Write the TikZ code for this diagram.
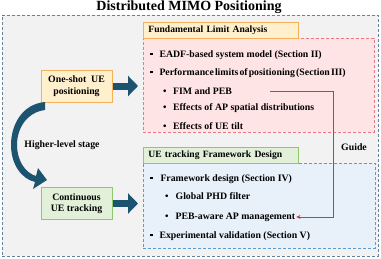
\documentclass[tikz,border=0pt]{standalone}
\usepackage{fontspec}
\setmainfont{Liberation Serif}
\usepackage{xcolor}
\usetikzlibrary{calc,positioning,arrows.meta}

\definecolor{framegray}{RGB}{242,242,242}
\definecolor{frameline}{RGB}{100,130,160}
\definecolor{hdrorange}{RGB}{255,240,205}
\definecolor{lineorange}{RGB}{244,177,90}
\definecolor{hdrgreen}{RGB}{226,240,217}
\definecolor{linegreen}{RGB}{140,200,110}
\definecolor{limpink}{RGB}{255,228,230}
\definecolor{linepink}{RGB}{238,120,130}
\definecolor{trkblue}{RGB}{232,240,250}
\definecolor{lineblue}{RGB}{91,155,213}
\definecolor{arrowblue}{RGB}{28,84,112}
\definecolor{guidered}{RGB}{220,50,50}

\newcommand\sqb{\rule[2pt]{2.8pt}{2.8pt}}

\begin{document}
\begin{tikzpicture}[
    x=1pt, y=-1pt,
    font=\fontsize{9.8}{11.5}\selectfont\bfseries,
    frame/.style={draw=frameline, densely dashed, fill=framegray, anchor=north west,
                  minimum width=376, minimum height=241, inner sep=0pt},
    hdr/.style={draw, line width=0.8pt, anchor=north west, align=left,
                text width=145, inner xsep=5pt, minimum height=16,
                font=\fontsize{9.6}{11}\selectfont\bfseries},
    area/.style={densely dashed, line width=0.6pt, anchor=north west, inner sep=0pt},
    stage/.style={draw, line width=0.8pt, align=center, minimum width=71,
                  minimum height=32, inner sep=1pt},
    item/.style={anchor=west, inner sep=1pt},
    blockarrow/.style={draw=arrowblue, line width=7pt, shorten <=1pt, shorten >=5pt,
                       -{Triangle[length=10pt,width=20pt]}},
    guide/.style={draw=guidered, line width=0.9pt, -{Stealth[length=4pt,width=4pt]}},
    lbl/.style={inner sep=1pt}
  ]
    \useasboundingbox (0,0) rectangle (381,258);

    \node[font=\fontsize{14}{16}\selectfont\bfseries] (title) at (189,7)
      {Distributed MIMO Positioning};
    \node[frame] (outer) at (2,15) {};

    \node[area, draw=linepink, fill=limpink, minimum width=231, minimum height=94]
      (limbox) at (143,38) {};
    \node[hdr, draw=lineorange, fill=hdrorange] (limhdr) at (143,22)
      {Fundamental Limit Analysis};
    \node[area, draw=lineblue, fill=trkblue, minimum width=232, minimum height=85]
      (trkbox) at (143,163) {};
    \node[hdr, draw=linegreen, fill=hdrgreen] (trkhdr) at (143,147)
      {UE tracking Framework Design};

    \node[item] (eadf) at (148.5,55) {\sqb\hspace{7pt}EADF-based system model (Section II)};
    \node[item] (perf) at (148.5,73)
      {\sqb\hspace{7pt}{\spaceskip=1.1pt plus 0.5pt Performance limits of positioning (Section III)}};
    \node[item] (fim) at (162,91) {\textbullet\hspace{6.5pt}FIM and PEB};
    \node[item] (apdist) at (162,108) {\textbullet\hspace{6.5pt}Effects of AP spatial distributions};
    \node[item] (tilt) at (162,126) {\textbullet\hspace{6.5pt}Effects of UE tilt};

    \node[item] (fwk) at (148.5,179) {\sqb\hspace{8pt}Framework design (Section IV)};
    \node[item] (phd) at (164,196) {\textbullet\hspace{7pt}Global PHD filter};
    \node[item] (peb) at (164,217) {\textbullet\hspace{7pt}PEB-aware AP management};
    \node[item] (valid) at (148.5,236) {\sqb\hspace{7pt}Experimental validation (Section V)};

    \node[stage, draw=lineorange, fill=hdrorange] (oneshot) at (76.5,86)
      {One-shot~~UE\\positioning};
    \node[stage, draw=linegreen, fill=hdrgreen] (cont) at (76.5,203.5)
      {Continuous\\UE tracking};
    \node[lbl] (higher) at (62,145) {Higher-level stage};
    \node[lbl] (guidelbl) at (354,147) {Guide};

    \draw[blockarrow] (oneshot.east) -- (oneshot.east -| limbox.west);
    \draw[blockarrow] (cont.east) -- (cont.east -| trkbox.west);

    \fill[arrowblue] (45,102) .. controls (22,104) and (11,125) .. (11,145)
      .. controls (11,165) and (22,179) .. (35,182) -- (33,189) -- (47,180)
      -- (38,168) -- (36,176) .. controls (25,173) and (17,160) .. (17,145)
      .. controls (17,127) and (28,112) .. (45,110) -- cycle;

    \coordinate (guidestart) at (270,91);
    \coordinate (turn) at (333,91);
    \draw[guide] (guidestart) -- (turn) |- (peb.east);
  \end{tikzpicture}
\end{document}
